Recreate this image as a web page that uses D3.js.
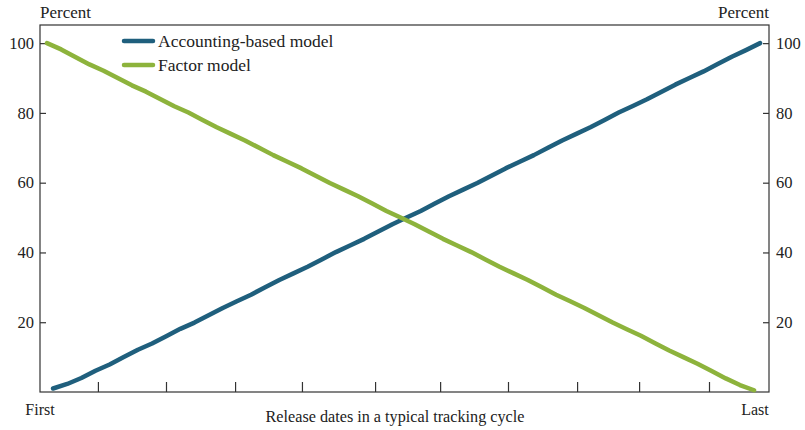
<!DOCTYPE html>
<html><head><meta charset="utf-8">
<script src="https://cdn.jsdelivr.net/npm/d3@7/dist/d3.min.js"></script>
<style>
body{margin:0;background:#fff;}
svg text{font-family:"Liberation Serif","DejaVu Serif",serif;fill:#222;}
</style></head>
<body><svg id="c" width="805" height="430"></svg>
<script>
const seriesNames = ["Accounting-based model", "Factor model"];
// release day within cycle for each series' observations
const accountingDays = [3,10,17,24,31,38,45,52,59,66,73,80,87,94,101,108,115,122,129,136,143,150,157,164,171,178,185,192,199,206,213,220,227,234,241,248,255,262,269,276,283,290,297,304,311,318,325,332,339,346,353];
const factorDays = [0,7,14,21,28,35,42,49,56,63,70,77,84,91,98,105,112,119,126,133,140,147,154,161,168,175,182,189,196,203,210,217,224,231,238,245,252,259,266,273,280,287,294,301,308,315,322,329,336,343,350];
const accounting = [1.0,2.3,4.0,6.1,7.9,10.0,12.1,13.9,16.0,18.1,19.9,22.0,24.1,26.0,27.9,30.0,32.1,34.0,35.9,38.0,40.1,42.0,43.9,46.0,48.1,50.0,51.9,54.0,56.1,58.0,59.9,62.0,64.1,66.0,67.9,70.0,72.1,74.0,75.9,78.0,80.1,82.0,83.9,86.0,88.1,90.0,91.9,94.0,96.1,98.0,100.0];
const factor = [100.0,98.2,96.0,93.9,92.1,90.0,87.9,86.1,84.0,81.9,80.1,78.0,75.9,74.0,72.1,70.0,67.9,66.0,64.1,62.0,59.9,58.0,56.1,54.0,51.9,50.0,48.1,46.0,43.9,42.0,40.1,38.0,35.9,34.0,32.1,30.0,27.9,26.0,24.1,22.0,19.9,18.0,16.1,14.0,11.9,10.0,8.1,6.0,3.9,2.0,0.5];
const yTicks = [20, 40, 60, 80, 100];
const xTicks = [25.2, 58.9, 93.1, 126.2, 162.4, 194.6, 228.2, 262.4, 293.1, 327.7];
const xEndLabels = ["First", "Last"];
const xTitle = "Release dates in a typical tracking cycle";
const yUnit = "Percent";
const colors = ["#1f5f7d", "#8db33c"];

const svg = d3.select("#c");
const L = 40, R = 769, T = 25, B = 392;
const x = d3.scaleLinear().domain([-3.47, 357.4]).range([L, R]);
const y = d3.scaleLinear().domain([0, 105.2]).range([B, T]);

const axisColor = "#333";
svg.append("rect").attr("x", L).attr("y", T).attr("width", R - L).attr("height", B - T)
  .attr("fill", "none").attr("stroke", axisColor).attr("stroke-width", 1.2);

// left axis
const ly = svg.append("g").attr("transform", `translate(${L},0)`)
  .call(d3.axisRight(y).tickValues(yTicks).tickSize(6).tickFormat(() => ""));
ly.select(".domain").remove();
ly.selectAll("line").attr("stroke", axisColor).attr("stroke-width", 1.2);
svg.append("g").selectAll("text").data(yTicks).join("text")
  .attr("x", L - 6).attr("y", d => y(d)).attr("dy", "0.35em").attr("text-anchor", "end")
  .attr("font-size", 16.5).text(d => d);

// right axis
const ry = svg.append("g").attr("transform", `translate(${R},0)`)
  .call(d3.axisLeft(y).tickValues(yTicks).tickSize(6).tickFormat(() => ""));
ry.select(".domain").remove();
ry.selectAll("line").attr("stroke", axisColor).attr("stroke-width", 1.2);
svg.append("g").selectAll("text").data(yTicks).join("text")
  .attr("x", R + 7).attr("y", d => y(d)).attr("dy", "0.35em").attr("text-anchor", "start")
  .attr("font-size", 16.5).text(d => d);

// bottom axis ticks (inward)
const bx = svg.append("g").attr("transform", `translate(0,${B})`)
  .call(d3.axisTop(x).tickValues(xTicks).tickSize(10).tickFormat(() => ""));
bx.select(".domain").remove();
bx.selectAll("line").attr("stroke", axisColor).attr("stroke-width", 1.2);

// units
svg.append("text").attr("x", L).attr("y", 18).attr("font-size", 17).text(yUnit);
svg.append("text").attr("x", R).attr("y", 18).attr("text-anchor", "end").attr("font-size", 17).text(yUnit);

// x labels
svg.append("text").attr("x", 40).attr("y", 415).attr("text-anchor", "middle").attr("font-size", 16).text(xEndLabels[0]);
svg.append("text").attr("x", 755).attr("y", 415).attr("text-anchor", "middle").attr("font-size", 16).text(xEndLabels[1]);
svg.append("text").attr("x", 395).attr("y", 422).attr("text-anchor", "middle").attr("font-size", 16.2).text(xTitle);

// lines
[[accountingDays, accounting], [factorDays, factor]].forEach(([days, vals], k) => {
  const line = d3.line().x((d, i) => x(days[i])).y(d => y(d));
  svg.append("path").datum(vals).attr("d", line).attr("fill", "none")
    .attr("stroke", colors[k]).attr("stroke-width", 4.5).attr("stroke-linejoin", "round").attr("stroke-linecap", "round");
});

// legend
seriesNames.forEach((name, k) => {
  const yy = 41 + k * 24;
  svg.append("line").attr("x1", 124).attr("x2", 153).attr("y1", yy).attr("y2", yy)
    .attr("stroke", colors[k]).attr("stroke-width", 4.5).attr("stroke-linecap", "round");
  svg.append("text").attr("x", 158).attr("y", yy).attr("dy", "0.35em").attr("font-size", 17.5).text(name);
});
</script></body></html>
